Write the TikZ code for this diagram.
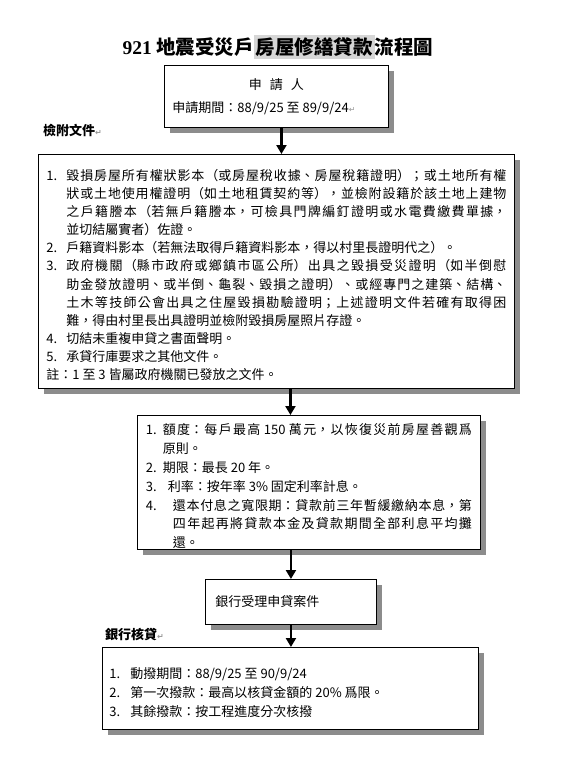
\documentclass[tikz,border=0pt]{standalone}
\usepackage{fontspec}
\usepackage{xcolor}
\usetikzlibrary{arrows.meta,positioning,shadows}
\setmainfont{Noto Sans CJK TC}
\newfontfamily\serifnum{Liberation Serif}
\newfontfamily\markfont{DejaVu Sans}
\XeTeXlinebreaklocale "zh"
\XeTeXlinebreakskip=0pt plus 3pt
\setlength{\parindent}{0pt}
\tolerance=10000
\definecolor{shadegray}{RGB}{140,140,140}
\definecolor{hlgray}{RGB}{214,214,214}
\definecolor{markgray}{RGB}{150,150,150}
\newcommand{\pmark}{{\markfont\fontsize{8}{8}\selectfont\color{markgray}↵}}
\newcommand{\itm}[3]{\par\hangindent=#1\hangafter=1\noindent\makebox[#1][l]{#2}#3}

\begin{document}
\begin{tikzpicture}[x=1pt,y=-1pt,
    box/.style={rectangle,draw=black,line width=0.9pt,fill=white,anchor=north west,
      drop shadow={shadow xshift=6pt,shadow yshift=-6pt,fill=shadegray,opacity=1},
      align=justify,inner ysep=0pt},
    heading/.style={anchor=west,font=\bfseries\fontsize{13}{16}\selectfont,inner sep=0pt},
    arrow/.style={-{Triangle[width=10pt,length=9pt]},line width=2.2pt}
  ]
  \fill[white] (0,0) rectangle (562,764);

  \node (title) at (278,47) {\bfseries\fontsize{19.5}{22}\selectfont{\serifnum 921} 地震受災戶{\setlength{\fboxsep}{2pt}\colorbox{hlgray}{房屋修繕貸款}}流程圖};

  \node[box,minimum width=224pt,minimum height=62pt,inner xsep=8pt,text width=208pt,
    font=\fontsize{13}{23}\selectfont] (apply) at (164,65)
    {\makebox[\linewidth][c]{申\hspace{8pt}請\hspace{8pt}人}\par 申請期間：88/9/25 至 89/9/24\pmark};

  \node[heading] (docs) at (43,130) {檢附文件\pmark};

  \node[box,minimum width=476pt,minimum height=234pt,inner xsep=8pt,text width=460pt,
    font=\fontsize{13}{18.1}\selectfont] (docbox) at (38,154) {%
    \itm{20pt}{1.}{毀損房屋所有權狀影本（或房屋稅收據、房屋稅籍證明）；或土地所有權\linebreak 狀或土地使用權證明（如土地租賃契約等），並檢附設籍於該土地上建物\linebreak 之戶籍謄本（若無戶籍謄本，可檢具門牌編釘證明或水電費繳費單據，\linebreak 並切結屬實者）佐證。}%
    \itm{20pt}{2.}{戶籍資料影本（若無法取得戶籍資料影本，得以村里長證明代之）。}%
    \itm{20pt}{3.}{政府機關（縣市政府或鄉鎮市區公所）出具之毀損受災證明（如半倒慰\linebreak 助金發放證明、或半倒、龜裂、毀損之證明）、或經專門之建築、結構、\linebreak 土木等技師公會出具之住屋毀損勘驗證明；上述證明文件若確有取得困\linebreak 難，得由村里長出具證明並檢附毀損房屋照片存證。}%
    \itm{20pt}{4.}{切結未重複申貸之書面聲明。}%
    \itm{20pt}{5.}{承貸行庫要求之其他文件。}%
    \par 註：1 至 3 皆屬政府機關已發放之文件。\par};

  \node[box,minimum width=343pt,minimum height=134pt,inner xsep=8.5pt,text width=326pt,
    font=\fontsize{13}{18.8}\selectfont] (loanbox) at (137,415) {%
    \itm{17pt}{1.}{額度：每戶最高 150 萬元，以恢復災前房屋善觀爲\linebreak 原則。}%
    \itm{17pt}{2.}{期限：最長 20 年。}%
    \itm{22pt}{3.}{利率：按年率 3\% 固定利率計息。}%
    \itm{27pt}{4.}{還本付息之寬限期：貸款前三年暫緩繳納本息，第\linebreak 四年起再將貸款本金及貸款期間全部利息平均攤\linebreak 還。}\par};

  \node[box,minimum width=171pt,minimum height=45pt,inner xsep=10pt,text width=151pt,
    align=left,font=\fontsize{13}{16}\selectfont] (accept) at (205,579) {銀行受理申貸案件};

  \node[heading] (review) at (105,634) {銀行核貸\pmark};

  \node[box,minimum width=376pt,minimum height=82pt,inner xsep=7pt,text width=362pt,
    font=\fontsize{13}{19}\selectfont] (grant) at (102,647) {%
    \itm{21pt}{1.}{動撥期間：88/9/25 至 90/9/24}%
    \itm{21pt}{2.}{第一次撥款：最高以核貸金額的 20\% 爲限。}%
    \itm{21pt}{3.}{其餘撥款：按工程進度分次核撥}%
    \par\vspace*{12pt}};

  \draw[arrow] ([xshift=5pt]apply.south) -- ([xshift=5pt]apply.south |- docbox.north);
  \draw[arrow] ([xshift=14pt]docbox.south) -- ([xshift=14pt]docbox.south |- loanbox.north);
  \draw[arrow] (loanbox.south -| accept.north) -- (accept.north);
  \draw[arrow] (accept.south) -- (accept.south |- grant.north);
\end{tikzpicture}
\end{document}
